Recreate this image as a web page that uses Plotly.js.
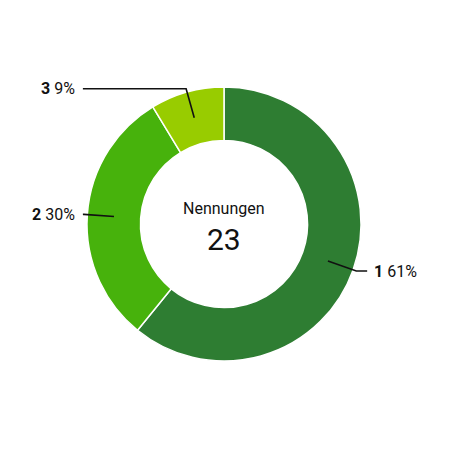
<!DOCTYPE html>
<html>
<head>
<meta charset="utf-8">
<script src="https://cdn.plot.ly/plotly-3.0.1.min.js"></script>
<style>html,body{margin:0;padding:0;background:#fff;}#chart{width:449px;height:449px;}</style>
</head>
<body>
<div id="chart"></div>
<script>
var categories = ["1", "2", "3"];
var counts = [14, 7, 2];
var percentLabels = ["61%", "30%", "9%"];
var colors = ["#2e7d32", "#47b20c", "#98cc00"];
var centerTitle = "Nennungen";

var W = 449, H = 449;
var M = {l: 87, r: 88, t: 87, b: 88};
var pw = W - M.l - M.r, ph = H - M.t - M.b;
var cx = M.l + pw / 2, cy = M.t + ph / 2;
var R = Math.min(pw, ph) / 2;
var hole = 0.61;
function px2x(x) { return (x - M.l) / pw; }
function px2y(y) { return 1 - (y - M.t) / ph; }

var total = counts.reduce(function (a, b) { return a + b; }, 0);
var shapes = [], annotations = [];
var cum = 0;
for (var i = 0; i < counts.length; i++) {
  var mid = (cum + counts[i] / 2) / total;
  cum += counts[i];
  var ang = mid * 2 * Math.PI;
  var dx = Math.sin(ang), dy = -Math.cos(ang);
  var r1 = R * (1 + hole) / 2, r2 = R * 1.025;
  var x1 = cx + dx * r1, y1 = cy + dy * r1;
  var x2 = cx + dx * r2, y2 = cy + dy * r2;
  var right = dx >= 0;
  var x3 = right ? cx + R * 1.045 : cx - R * 1.03;
  shapes.push({
    type: "path", xref: "paper", yref: "paper",
    path: "M " + px2x(x1) + "," + px2y(y1) + " L " + px2x(x2) + "," + px2y(y2) + " L " + px2x(x3) + "," + px2y(y2),
    line: {color: "#111", width: 1.6}
  });
  annotations.push({
    xref: "paper", yref: "paper",
    x: px2x(right ? x3 + 5 : x3 - 6), y: px2y(y2),
    xanchor: right ? "left" : "right", yanchor: "middle",
    text: "<b>" + categories[i] + "</b> " + percentLabels[i],
    showarrow: false,
    font: {family: "Roboto, sans-serif", size: 16, color: "#111"}
  });
}
annotations.push({
  xref: "paper", yref: "paper", x: 0.5, y: px2y(208), xanchor: "center", yanchor: "middle",
  text: centerTitle, showarrow: false,
  font: {family: "Roboto, sans-serif", size: 16, color: "#111"}
});
annotations.push({
  xref: "paper", yref: "paper", x: 0.5, y: px2y(239), xanchor: "center", yanchor: "middle",
  text: String(total), showarrow: false,
  font: {family: "Roboto, sans-serif", size: 30, color: "#111"}
});

var data = [{
  type: "pie",
  labels: categories,
  values: counts,
  hole: hole,
  sort: false,
  direction: "clockwise",
  rotation: 0,
  textinfo: "none",
  hoverinfo: "none",
  marker: {colors: colors, line: {color: "#ffffff", width: 1.5}}
}];

var layout = {
  width: W, height: H, autosize: false,
  margin: M,
  showlegend: false,
  paper_bgcolor: "#fff",
  shapes: shapes,
  annotations: annotations
};
Plotly.newPlot("chart", data, layout, {displayModeBar: false, staticPlot: true});
</script>
</body>
</html>
